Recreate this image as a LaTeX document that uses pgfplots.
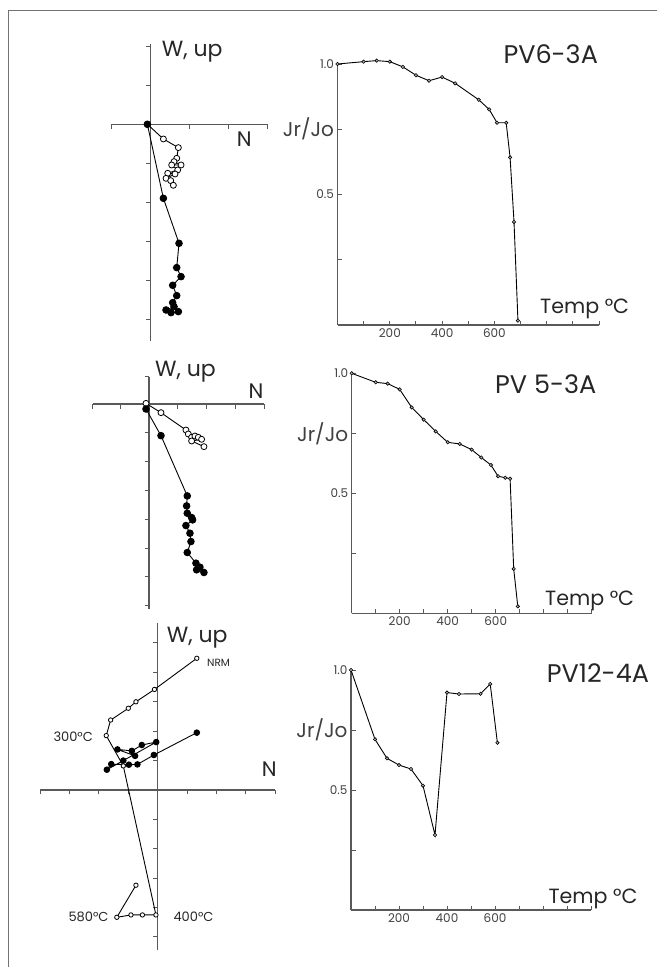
\documentclass[border=0pt]{standalone}
\usepackage{fontspec}
\setmainfont{Poppins}
\usepackage{pgfplots}
\pgfplotsset{compat=1.18}
\pgfplotsset{
  zij/.style={scale only axis, axis lines=middle, axis line style={-, line width=1.2pt, black!65},
    tick style={black!65, line width=1pt}, major tick length=4.5pt, tick align=outside,
    xticklabels={}, yticklabels={}, clip=false, anchor=south west},
  demag/.style={scale only axis, axis lines=left, axis line style={-, line width=1.3pt, black!65},
    xmin=0, xmax=1000, ymin=0, ymax=1,
    xtick={100,200,...,1000}, xticklabels={,200,,400,,600,,,,},
    ytick={0.25,0.5,0.75,1}, yticklabels={,0.5,{\fontsize{20}{20}\selectfont Jr/Jo},1.0},
    tick align=inside, major tick length=4.5pt, tick style={black!65, line width=1pt},
    ticklabel style={font=\fontsize{12}{12}\selectfont, text=black!75},
    clip=false, anchor=south west},
  dline/.style={black, line width=0.9pt, mark=*, mark size=1.7pt, mark options={fill=black!30, draw=black, line width=0.6pt}},
  fill1/.style={black, line width=0.9pt, mark=*, mark size=3.3pt, mark options={fill=black, draw=black}},
  open1/.style={black, line width=0.9pt, mark=*, mark size=3pt, mark options={fill=white, draw=black, line width=0.8pt}},
}
\begin{document}
\begin{tikzpicture}[x=1pt,y=-1pt]
\path[use as bounding box] (0,0) rectangle (657,967);
\draw[black!55, line width=1pt] (8.8,967) -- (8.8,10.5) -- (657,10.5);

% ---------- Panel A (Zijderveld) ----------
\begin{axis}[zij, at={(111.7pt,-340.75pt)}, width=156pt, height=296.4pt,
  xmin=-1, xmax=3, ymin=-5.55, ymax=2.05, xtick={-1,1,2,3}, ytick={-5,-4,-3,-2,-1,1,2}]
\addplot[open1] coordinates {(-0.085,0) (0.325,-0.376) (0.709,-0.598) (0.667,-0.872) (0.598,-0.957) (0.778,-1.043) (0.538,-1.043) (0.692,-1.171) (0.436,-1.256) (0.624,-1.274) (0.393,-1.385) (0.513,-1.444) (0.581,-1.564)};
\addplot[fill1] coordinates {(-0.085,0) (0.325,-1.897) (0.726,-3.051) (0.667,-3.675) (0.778,-3.906) (0.564,-4.128) (0.667,-4.393) (0.564,-4.573) (0.598,-4.675) (0.393,-4.761) (0.521,-4.829) (0.709,-4.803)};
\end{axis}

% ---------- Panel B (Zijderveld) ----------
\begin{axis}[zij, at={(92.84pt,-609.06pt)}, width=171.36pt, height=232.4pt,
  xmin=-1.95, xmax=4, ymin=-7.12, ymax=0.95, xtick={-1.95,-1,1,2,3,4}, ytick={-7,-6,-5,-4,-3,-2,-1,0.95}]
\addplot[open1] coordinates {(-0.104,0.023) (0.416,-0.30) (1.283,-0.902) (1.364,-1.040) (1.480,-1.156) (1.595,-1.110) (1.711,-1.156) (1.827,-1.225) (1.480,-1.283) (1.908,-1.480)};
\addplot[fill1] coordinates {(-0.104,-0.173) (0.416,-1.098) (1.329,-3.191) (1.306,-3.538) (1.329,-3.792) (1.480,-3.942) (1.514,-4.023) (1.283,-4.220) (1.422,-4.486) (1.457,-4.775) (1.329,-5.156) (1.630,-5.526) (1.769,-5.665) (1.653,-5.757) (1.908,-5.850)};
\end{axis}

% ---------- Panel C (Zijderveld) ----------
\begin{axis}[zij, at={(40.1pt,-949.9pt)}, width=235.2pt, height=326.6pt,
  xmin=-4, xmax=4, ymin=-5.44, ymax=5.67, xtick={-4,-3,-2,-1,1,2,3,4}, ytick={-5,-4,-3,-2,-1,1,2,3,4,5}]
\addplot[black, line width=0.9pt, mark=*, mark size=2.8pt, mark options={fill=black}] coordinates {(1.33,1.95) (-0.13,1.19) (-0.69,0.87) (-0.98,0.86) (-1.58,0.88) (-1.73,0.69) (-1.17,1.0) (-0.05,1.63) (-0.54,1.53) (-0.88,1.33) (-1.37,1.38) (-0.77,1.16)};
\addplot[black, line width=0.9pt, mark=*, mark size=2.2pt, mark options={fill=white, line width=0.8pt}] coordinates {(1.33,4.48) (-0.11,3.42) (-0.74,3.0) (-1.0,2.78) (-1.6,2.38) (-1.75,1.85) (-1.17,0.82) (-0.06,-4.25) (-0.52,-4.25) (-0.91,-4.25) (-1.39,-4.33) (-0.74,-3.24)};
\end{axis}

% ---------- Right panels ----------
\begin{axis}[demag, at={(337.5pt,-325pt)}, width=261.5pt, height=261pt]
\addplot[dline] coordinates {(0,1.0) (100,1.009) (150,1.013) (200,1.009) (250,0.989) (300,0.957) (350,0.936) (400,0.950) (450,0.926) (540,0.863) (580,0.826) (610,0.775) (645,0.775) (660,0.642) (675,0.395) (690,0.017)};
\end{axis}
\begin{axis}[demag, at={(351.7pt,-613.3pt)}, width=240pt, height=240pt]
\addplot[dline] coordinates {(0,1.0) (100,0.9625) (150,0.957) (200,0.933) (250,0.858) (300,0.807) (350,0.758) (400,0.7125) (450,0.7056) (500,0.682) (540,0.649) (580,0.618) (610,0.571) (640,0.565) (660,0.561) (675,0.185) (692,0.029)};
\end{axis}
\begin{axis}[demag, at={(351pt,-910pt)}, width=240pt, height=240pt]
\addplot[dline] coordinates {(0,1.0) (100,0.711) (150,0.632) (200,0.604) (250,0.5875) (300,0.518) (350,0.3125) (400,0.906) (450,0.9) (540,0.901) (580,0.942) (610,0.697)};
\end{axis}

% ---------- Text ----------
\tikzset{lab/.style={anchor=base west, inner sep=0pt, text=black!85}}
\node[lab, font=\fontsize{22}{22}\selectfont] at (161.7,56.7) {W, up};
\node[lab, font=\fontsize{22}{22}\selectfont] at (155,376.7) {W, up};
\node[lab, font=\fontsize{22}{22}\selectfont] at (166.7,642.3) {W, up};
\node[lab, font=\fontsize{21}{21}\selectfont] at (236.7,146.7) {N};
\node[lab, font=\fontsize{21}{21}\selectfont] at (248.3,398.3) {N};
\node[lab, font=\fontsize{21}{21}\selectfont] at (261.7,776.7) {N};
\node[lab, font=\fontsize{10.5}{10.5}\selectfont] at (207,666.7) {NRM};
\node[lab, font=\fontsize{13}{13}\selectfont] at (53.3,741.7) {300°C};
\node[lab, font=\fontsize{13}{13}\selectfont] at (68.3,921.7) {580°C};
\node[lab, font=\fontsize{13}{13}\selectfont] at (173.3,921.7) {400°C};
\node[lab, font=\fontsize{25.5}{25.5}\selectfont] at (503.3,63) {PV6-3A};
\node[lab, font=\fontsize{25.5}{25.5}\selectfont] at (495,393.3) {PV 5-3A};
\node[lab, font=\fontsize{25.5}{25.5}\selectfont] at (546.7,682.7) {PV12-4A};
\node[lab, font=\fontsize{20.6}{20.6}\selectfont] at (540,313.3) {Temp °C};
\node[lab, font=\fontsize{20.6}{20.6}\selectfont] at (545,605) {Temp °C};
\node[lab, font=\fontsize{20.6}{20.6}\selectfont] at (548.3,903.3) {Temp °C};
\end{tikzpicture}
\end{document}
